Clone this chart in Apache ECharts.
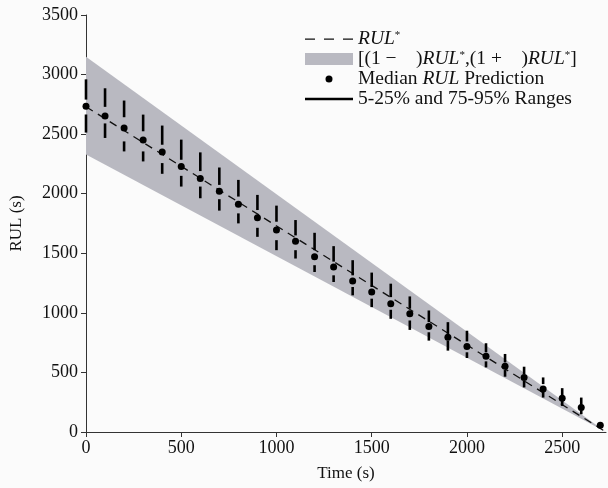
<!DOCTYPE html>
<html>
<head>
<meta charset="utf-8">
<script src="https://cdn.jsdelivr.net/npm/echarts@6/dist/echarts.min.js"></script>
<style>
  html, body { margin: 0; padding: 0; background: #fbfbfb; }
  #chart { width: 608px; height: 488px; }
</style>
</head>
<body>
<div id="chart"></div>
<script>
// prediction times (s)
var times = [0, 100, 200, 300, 400, 500, 600, 700, 800, 900, 1000, 1100, 1200, 1300,
    1400, 1500, 1600, 1700, 1800, 1900, 2000, 2100, 2200, 2300, 2400, 2500, 2600, 2700];
// median RUL prediction
var median = [2734, 2652, 2552, 2451, 2350, 2229, 2128, 2020, 1911, 1799, 1695, 1600, 1470, 1385,
    1267, 1175, 1077, 992, 885, 795, 717, 635, 551, 458, 360, 284, 205, 57];
// percentiles 95 / 75 (upper segment)
var p95 = [2960, 2885, 2782, 2664, 2572, 2454, 2347, 2220, 2116, 1990, 1900, 1779, 1672, 1560,
    1442, 1338, 1245, 1138, 1020, 922, 850, 745, 655, 548, 458, 368, 289, 66];
var p75 = [2790, 2729, 2642, 2524, 2411, 2285, 2190, 2074, 1976, 1863, 1765, 1650, 1526, 1430,
    1315, 1217, 1132, 1035, 922, 824, 760, 669, 584, 486, 402, 304, 228, 62];
// percentiles 25 / 5 (lower segment)
var p25 = [2665, 2590, 2439, 2355, 2257, 2150, 2060, 1954, 1835, 1714, 1610, 1526, 1400, 1315,
    1217, 1119, 1026, 936, 837, 767, 669, 593, 520, 430, 340, 261, 183, 52];
var p5 = [2513, 2468, 2355, 2271, 2167, 2060, 1962, 1858, 1751, 1638, 1526, 1456, 1343, 1259,
    1147, 1048, 950, 857, 767, 683, 621, 542, 464, 374, 289, 219, 149, 48];
// true RUL line and accuracy cone edges
var rulTimes = [0, 2730];
var rulStar = [2730, 0];
var bandUpper = [3150, 0];
var bandLower = [2330, 0];
// axis ticks
var xTicks = [0, 500, 1000, 1500, 2000, 2500];
var yTicks = [0, 500, 1000, 1500, 2000, 2500, 3000, 3500];

var N_RUL = 'rul', N_BAND = 'band', N_MED = 'median', N_RANGE = 'ranges';
var legendText = {};
legendText[N_RUL] = '{i|RUL}{s|*}';
legendText[N_BAND] = '[(1 −    ){i|RUL}{s|*},(1 +    ){i|RUL}{s|*}]';
legendText[N_MED] = 'Median {i|RUL} Prediction';
legendText[N_RANGE] = '5-25% and 75-95% Ranges';

var serif = '"Liberation Serif", "Times New Roman", serif';
var ink = '#111';
var bandColor = '#b9b9c1';
var mychart = echarts.init(document.getElementById('chart'));

var option = {
    backgroundColor: '#fbfbfb',
    animation: false,
    textStyle: {fontFamily: serif, color: ink},
    grid: {left: 86, right: 2, top: 15, bottom: 56},
    legend: {
        orient: 'vertical',
        left: 300,
        top: 24,
        itemWidth: 48,
        itemHeight: 12,
        itemGap: 0,
        selectedMode: false,
        data: [
            {name: N_RUL, icon: 'path://M0,0M48,12M0,5.4h10v1.3h-10ZM19,5.4h10v1.3h-10ZM38,5.4h10v1.3h-10Z'},
            {name: N_BAND, icon: 'rect'},
            {name: N_MED, icon: 'path://M0,0M48,12M20.5,6a3.5,3.5,0,1,0,7,0a3.5,3.5,0,1,0,-7,0Z'},
            {name: N_RANGE, icon: 'path://M0,0M48,12M0,4.8h48v2.4h-48Z'}
        ],
        formatter: function (name) { return legendText[name]; },
        textStyle: {
            fontFamily: serif,
            fontSize: 19.5,
            lineHeight: 18,
            color: ink,
            rich: {
                i: {fontFamily: serif, fontStyle: 'italic', fontSize: 19.5, lineHeight: 18, color: ink},
                s: {fontFamily: serif, fontSize: 11, lineHeight: 18, verticalAlign: 'top', color: ink}
            }
        }
    },
    xAxis: {
        type: 'value',
        min: 0,
        max: rulTimes[1],
        interval: 500,
        name: 'Time (s)',
        nameLocation: 'middle',
        nameGap: 33,
        nameTextStyle: {fontFamily: serif, fontSize: 17, color: ink},
        axisLine: {lineStyle: {color: '#333', width: 1}},
        axisTick: {length: 5, lineStyle: {color: '#333'}},
        axisLabel: {
            fontFamily: serif, fontSize: 18, color: ink, margin: 7,
            showMaxLabel: false,
            formatter: function (v) { return xTicks.indexOf(v) >= 0 ? String(v) : ''; }
        },
        splitLine: {show: false}
    },
    yAxis: {
        type: 'value',
        min: 0,
        max: yTicks[yTicks.length - 1],
        interval: 500,
        name: 'RUL (s)',
        nameLocation: 'middle',
        nameGap: 61,
        nameTextStyle: {fontFamily: serif, fontSize: 17, color: ink},
        axisLine: {show: true, lineStyle: {color: '#333', width: 1}},
        axisTick: {show: true, length: 5, lineStyle: {color: '#333'}},
        axisLabel: {
            fontFamily: serif, fontSize: 18, color: ink, margin: 8,
            formatter: function (v) { return String(v); }
        },
        splitLine: {show: false}
    },
    series: [
        {
            // accuracy cone, one quad per pair of neighbouring edge points
            name: N_BAND,
            type: 'custom',
            color: bandColor,
            silent: true,
            encode: {x: 0, y: [1, 2]},
            data: rulTimes.map(function (t, i) { return [t, bandLower[i], bandUpper[i]]; }),
            renderItem: function (params, api) {
                var i = params.dataIndex;
                if (i >= rulTimes.length - 1) return null;
                var pts = [
                    api.coord([rulTimes[i], bandLower[i]]),
                    api.coord([rulTimes[i + 1], bandLower[i + 1]]),
                    api.coord([rulTimes[i + 1], bandUpper[i + 1]]),
                    api.coord([rulTimes[i], bandUpper[i]])
                ];
                return {type: 'polygon', shape: {points: pts}, style: {fill: bandColor}};
            },
            z: 1
        },
        {
            name: N_RUL,
            type: 'line',
            symbol: 'none',
            color: ink,
            lineStyle: {color: ink, width: 1.3, type: [8, 6]},
            data: rulTimes.map(function (t, i) { return [t, rulStar[i]]; }),
            z: 3
        },
        {
            name: N_RANGE,
            type: 'custom',
            color: '#000',
            encode: {x: 0, y: [1, 2, 3, 4]},
            data: times.map(function (t, i) { return [t, p5[i], p25[i], p75[i], p95[i]]; }),
            renderItem: function (params, api) {
                var t = api.value(0);
                var a = api.coord([t, api.value(1)]);
                var b = api.coord([t, api.value(2)]);
                var c = api.coord([t, api.value(3)]);
                var d = api.coord([t, api.value(4)]);
                var st = {stroke: '#000', lineWidth: 2.6};
                return {
                    type: 'group',
                    children: [
                        {type: 'line', shape: {x1: a[0], y1: a[1], x2: b[0], y2: b[1]}, style: st},
                        {type: 'line', shape: {x1: c[0], y1: c[1], x2: d[0], y2: d[1]}, style: st}
                    ]
                };
            },
            z: 4
        },
        {
            name: N_MED,
            type: 'scatter',
            symbol: 'circle',
            symbolSize: 7,
            color: '#000',
            itemStyle: {color: '#000', opacity: 1},
            data: times.map(function (t, i) { return [t, median[i]]; }),
            z: 5
        }
    ]
};
mychart.setOption(option);
</script>
</body>
</html>
